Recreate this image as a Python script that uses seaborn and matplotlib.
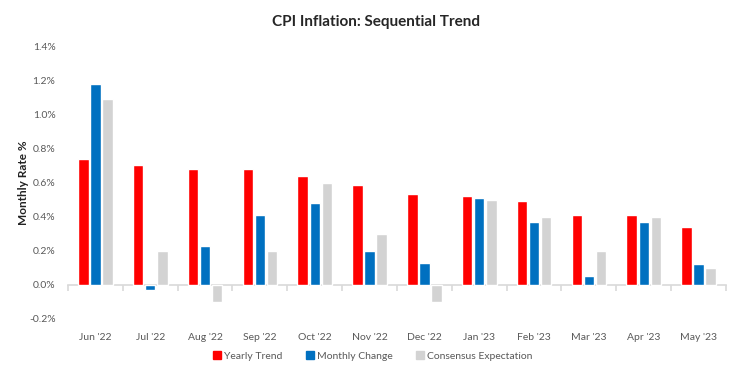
import numpy as np
import pandas as pd
import matplotlib.pyplot as plt
from matplotlib.ticker import FuncFormatter, FixedLocator, NullFormatter
import seaborn as sns

months = ["Jun '22", "Jul '22", "Aug '22", "Sep '22", "Oct '22", "Nov '22",
          "Dec '22", "Jan '23", "Feb '23", "Mar '23", "Apr '23", "May '23"]
yearly_trend = [0.74, 0.70, 0.68, 0.68, 0.64, 0.585, 0.53, 0.52, 0.49, 0.41, 0.41, 0.34]
monthly_change = [1.18, -0.03, 0.23, 0.41, 0.48, 0.20, 0.13, 0.51, 0.37, 0.05, 0.37, 0.12]
consensus = [1.09, 0.20, -0.10, 0.20, 0.60, 0.30, -0.10, 0.50, 0.40, 0.20, 0.40, 0.10]
series_names = ["Yearly Trend", "Monthly Change", "Consensus Expectation"]
colors = ["#FF0000", "#0070C0", "#D3D3D3"]

df = pd.DataFrame({
    "month": months * 3,
    "value": yearly_trend + monthly_change + consensus,
    "series": np.repeat(series_names, len(months)),
})

sns.set_theme(style="white")
plt.rcParams["font.family"] = ["Lato", "DejaVu Sans"]

fig = plt.figure(figsize=(7.51, 3.73), dpi=100)
ax = fig.add_axes([68 / 751, 54 / 373, 658 / 751, 273 / 373])

sns.barplot(data=df, x="month", y="value", hue="series", palette=colors,
            width=0.66, gap=0.14, ax=ax, legend=False, saturation=1)

ax.set_xlim(-0.5, 11.5)
ax.set_ylim(-0.2, 1.4)
ax.set_yticks(np.arange(-0.2, 1.41, 0.2))
ax.yaxis.set_major_formatter(FuncFormatter(lambda v, p: f"{v:.1f}%"))
ax.tick_params(axis="y", length=0, pad=9, labelsize=7.5, labelcolor="#595959")

for s in ["top", "right", "left", "bottom"]:
    ax.spines[s].set_visible(False)

# month labels sit under the plot area
ax.set_xticks(np.arange(len(months)))
ax.set_xticklabels(months)
ax.tick_params(axis="x", length=0, pad=10, labelsize=7.5, labelcolor="#595959")

# zero line with category separators
secax = ax.secondary_xaxis(0.2 / 1.6)
secax.xaxis.set_major_locator(FixedLocator(np.arange(-0.5, 12, 1)))
secax.xaxis.set_major_formatter(NullFormatter())
secax.spines["bottom"].set_color("#D9D9D9")
secax.spines["bottom"].set_linewidth(1.2)
secax.tick_params(axis="x", length=4, color="#D9D9D9", width=1.2, direction="out")

ax.set_xlabel("")
ax.set_ylabel("Monthly Rate %", fontsize=8.5, fontweight="bold", color="#222222", labelpad=0)

fig.suptitle("CPI Inflation: Sequential Trend", fontsize=11, fontweight="bold", y=0.96)

handles = [plt.Line2D([], [], marker="s", linestyle="", color=c, markersize=5.5) for c in colors]
fig.legend(handles, series_names, loc="center", bbox_to_anchor=(0.496, 1 - 356 / 373),
           ncol=3, frameon=False, fontsize=7.5, handletextpad=0.2, handlelength=0.9,
           columnspacing=2.2, labelcolor="#595959")

fig.savefig("out.png", dpi=100)
